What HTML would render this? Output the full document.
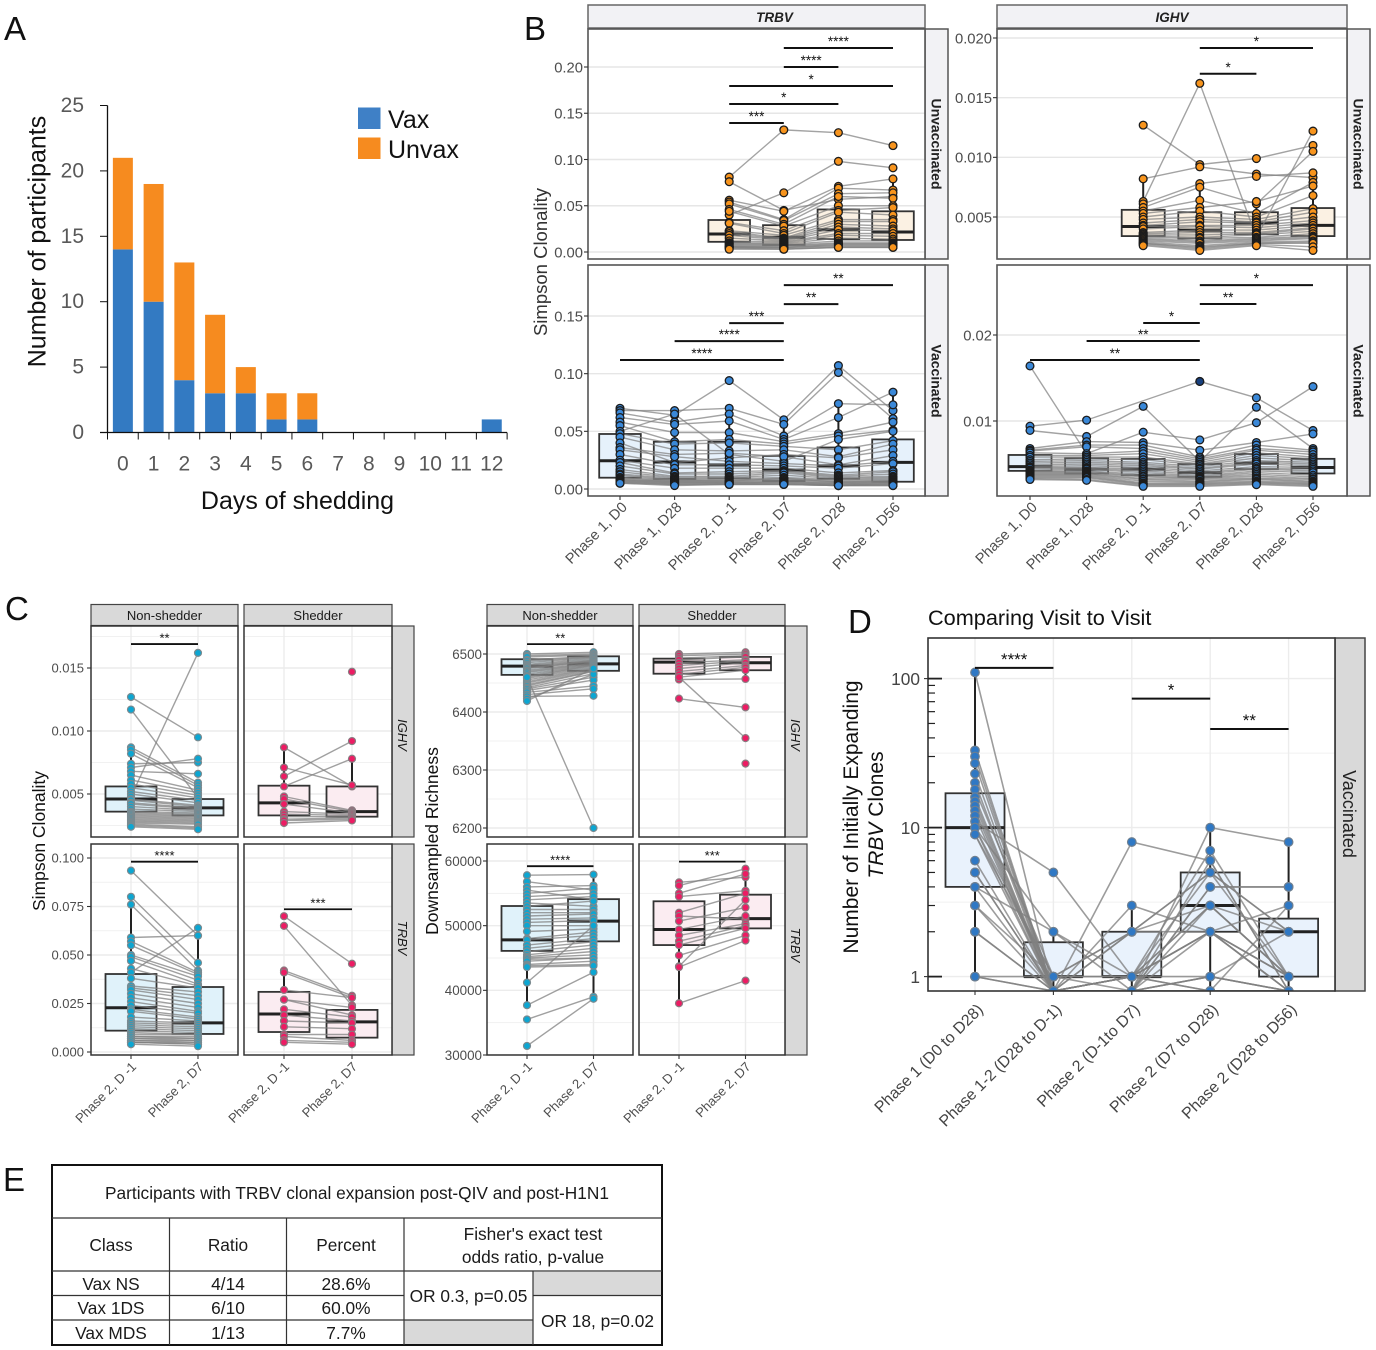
<!DOCTYPE html>
<html lang="en">
<head>
<meta charset="utf-8">
<title>Shedding and clonality figure</title>
<style>
html,body{margin:0;padding:0;background:#fff;}
svg{display:block;font-family:"Liberation Sans",sans-serif;}
</style>
</head>
<body>
<svg id="fig" xmlns="http://www.w3.org/2000/svg" width="1376" height="1350" viewBox="0 0 1376 1350">
  <rect x="0" y="0" width="1376" height="1350" fill="#fff"/>
  <text x="4" y="40" font-size="33" fill="#111">A</text>
  <text x="524" y="40" font-size="33" fill="#111">B</text>
  <text x="5" y="620" font-size="33" fill="#111">C</text>
  <text x="848" y="633" font-size="33" fill="#111">D</text>
  <text x="3" y="1191" font-size="33" fill="#111">E</text>

  <!-- Panel A labels -->
  <text transform="translate(45.5,241.5) rotate(-90)" text-anchor="middle" font-size="25" fill="#111">Number of participants</text>
  <text x="297.5" y="509" text-anchor="middle" font-size="25" fill="#111">Days of shedding</text>
  <rect x="358" y="107.5" width="22.5" height="21.5" fill="#3f80c6"/>
  <rect x="358" y="137.5" width="22.5" height="21.5" fill="#f68b1f"/>
  <text x="388" y="128" font-size="25" fill="#111">Vax</text>
  <text x="388" y="158" font-size="25" fill="#111">Unvax</text>

  <!-- Panel B static -->
  <text transform="translate(547,262) rotate(-90)" text-anchor="middle" font-size="18.5" fill="#333">Simpson Clonality</text>
  <g>
    <rect x="588" y="5" width="337" height="23" fill="#f2f2f5" stroke="#666" stroke-width="1.5"/>
    <text x="774.5" y="22" text-anchor="middle" font-size="13.5" font-weight="bold" font-style="italic" fill="#222">TRBV</text>
  </g>
  <g>
    <rect x="997" y="5" width="350" height="23" fill="#f2f2f5" stroke="#666" stroke-width="1.5"/>
    <text x="1172" y="22" text-anchor="middle" font-size="13.5" font-weight="bold" font-style="italic" fill="#222">IGHV</text>
  </g>
  <g>
    <rect x="925" y="29" width="23" height="230" fill="#f2f2f5" stroke="#555" stroke-width="1.5"/>
    <text transform="translate(931.5,144) rotate(90)" text-anchor="middle" font-size="14" font-weight="bold" fill="#222">Unvaccinated</text>
  </g>
  <g>
    <rect x="925" y="265" width="23" height="231" fill="#f2f2f5" stroke="#555" stroke-width="1.5"/>
    <text transform="translate(931.5,381) rotate(90)" text-anchor="middle" font-size="14" font-weight="bold" fill="#222">Vaccinated</text>
  </g>
  <g>
    <rect x="1347" y="29" width="23" height="230" fill="#f2f2f5" stroke="#555" stroke-width="1.5"/>
    <text transform="translate(1353.5,144) rotate(90)" text-anchor="middle" font-size="14" font-weight="bold" fill="#222">Unvaccinated</text>
  </g>
  <g>
    <rect x="1347" y="265" width="23" height="231" fill="#f2f2f5" stroke="#555" stroke-width="1.5"/>
    <text transform="translate(1353.5,381) rotate(90)" text-anchor="middle" font-size="14" font-weight="bold" fill="#222">Vaccinated</text>
  </g>

  <!-- Panel C static -->
  <text transform="translate(45,841) rotate(-90)" text-anchor="middle" font-size="17.5" fill="#111">Simpson Clonality</text>
  <text transform="translate(438,841) rotate(-90)" text-anchor="middle" font-size="17.5" fill="#111">Downsampled Richness</text>
  <g>
    <rect x="91" y="604.5" width="147" height="21" fill="#d9d9d9" stroke="#444" stroke-width="1.2"/>
    <text x="164.5" y="620" text-anchor="middle" font-size="13" fill="#1a1a1a">Non-shedder</text>
  </g>
  <g>
    <rect x="244" y="604.5" width="148" height="21" fill="#d9d9d9" stroke="#444" stroke-width="1.2"/>
    <text x="318" y="620" text-anchor="middle" font-size="13" fill="#1a1a1a">Shedder</text>
  </g>
  <g>
    <rect x="487" y="604.5" width="146" height="21" fill="#d9d9d9" stroke="#444" stroke-width="1.2"/>
    <text x="560" y="620" text-anchor="middle" font-size="13" fill="#1a1a1a">Non-shedder</text>
  </g>
  <g>
    <rect x="639" y="604.5" width="146" height="21" fill="#d9d9d9" stroke="#444" stroke-width="1.2"/>
    <text x="712" y="620" text-anchor="middle" font-size="13" fill="#1a1a1a">Shedder</text>
  </g>
  <g>
    <rect x="392" y="626" width="22" height="211" fill="#d9d9d9" stroke="#444" stroke-width="1.2"/>
    <text transform="translate(398,735) rotate(90)" text-anchor="middle" font-size="13" font-style="italic" fill="#1a1a1a">IGHV</text>
  </g>
  <g>
    <rect x="392" y="844" width="22" height="211" fill="#d9d9d9" stroke="#444" stroke-width="1.2"/>
    <text transform="translate(398,938) rotate(90)" text-anchor="middle" font-size="13" font-style="italic" fill="#1a1a1a">TRBV</text>
  </g>
  <g>
    <rect x="785" y="626" width="22" height="211" fill="#d9d9d9" stroke="#444" stroke-width="1.2"/>
    <text transform="translate(791,735) rotate(90)" text-anchor="middle" font-size="13" font-style="italic" fill="#1a1a1a">IGHV</text>
  </g>
  <g>
    <rect x="785" y="844" width="22" height="211" fill="#d9d9d9" stroke="#444" stroke-width="1.2"/>
    <text transform="translate(791,945) rotate(90)" text-anchor="middle" font-size="13" font-style="italic" fill="#1a1a1a">TRBV</text>
  </g>

  <!-- Panel D static -->
  <text x="928" y="625" font-size="21.7" fill="#111">Comparing Visit to Visit</text>
  <text transform="translate(858,817) rotate(-90)" text-anchor="middle" font-size="21" fill="#111">Number of Initially Expanding</text>
  <text transform="translate(883,815) rotate(-90)" text-anchor="middle" font-size="21" fill="#111"><tspan font-style="italic">TRBV</tspan> Clones</text>
  <g>
    <rect x="1335" y="638" width="30" height="353" fill="#d9d9d9" stroke="#444" stroke-width="1.5"/>
    <text transform="translate(1343,814) rotate(90)" text-anchor="middle" font-size="18" fill="#222">Vaccinated</text>
  </g>

  <!-- Panel E table -->
  <g font-size="17.3" fill="#1a1a1a" text-anchor="middle">
    <rect x="533" y="1272" width="129" height="23" fill="#d9d9d9"/>
    <rect x="404" y="1320" width="129" height="25" fill="#d9d9d9"/>
    <rect x="52" y="1165" width="610" height="180" fill="none" stroke="#111" stroke-width="2"/>
    <g stroke="#333" stroke-width="1.2">
      <line x1="52" y1="1218" x2="662" y2="1218"/>
      <line x1="52" y1="1271" x2="662" y2="1271"/>
      <line x1="52" y1="1295.5" x2="404" y2="1295.5"/>
      <line x1="52" y1="1320" x2="404" y2="1320"/>
      <line x1="169.5" y1="1218" x2="169.5" y2="1345"/>
      <line x1="286.5" y1="1218" x2="286.5" y2="1345"/>
      <line x1="404" y1="1218" x2="404" y2="1345"/>
      <line x1="533" y1="1271" x2="533" y2="1345"/>
      <line x1="404" y1="1320" x2="533" y2="1320"/>
      <line x1="533" y1="1295.5" x2="662" y2="1295.5"/>
    </g>
    <text x="357" y="1199">Participants with TRBV clonal expansion post-QIV and post-H1N1</text>
    <text x="111" y="1251">Class</text>
    <text x="228" y="1251">Ratio</text>
    <text x="346" y="1251">Percent</text>
    <text x="533" y="1240">Fisher's exact test</text>
    <text x="533" y="1263">odds ratio, p-value</text>
    <text x="111" y="1290">Vax NS</text>
    <text x="228" y="1290">4/14</text>
    <text x="346" y="1290">28.6%</text>
    <text x="111" y="1314">Vax 1DS</text>
    <text x="228" y="1314">6/10</text>
    <text x="346" y="1314">60.0%</text>
    <text x="111" y="1339">Vax MDS</text>
    <text x="228" y="1339">1/13</text>
    <text x="346" y="1339">7.7%</text>
    <text x="468.5" y="1302">OR 0.3, p=0.05</text>
    <text x="597.5" y="1327">OR 18, p=0.02</text>
  </g>
</svg>

<script>
/* ---------- Panel A data ---------- */
const dayLabels = ["0","1","2","3","4","5","6","7","8","9","10","11","12"];
const vaxCounts = [14,10,4,3,3,1,1,0,0,0,0,0,1];
const unvaxCounts = [7,9,9,6,2,2,2,0,0,0,0,0,0];
const participantTicks = [0,5,10,15,20,25];

/* ---------- Shared visit labels ---------- */
const visitLabels = ["Phase 1, D0","Phase 1, D28","Phase 2, D -1","Phase 2, D7","Phase 2, D28","Phase 2, D56"];
const pairLabels = ["Phase 2, D -1","Phase 2, D7"];
const intervalLabels = ["Phase 1 (D0 to D28)","Phase 1-2 (D28 to D-1)","Phase 2 (D-1to D7)","Phase 2 (D7 to D28)","Phase 2 (D28 to D56)"];

/* ---------- Panel B, TRBV unvaccinated ---------- */
const trbvUnvaxTicks = [0,0.05,0.1,0.15,0.2];
const trbvUnvaxTickLabels = ["0.00","0.05","0.10","0.15","0.20"];
const trbvUnvaxDm1 = [.081,.076,.040,.056,.054,.052,.046,.044,.032,.031,.023,.022,.020,.018,.015,.012,.010,.009,.008,.007,.006,.006,.005,.005,.004,.003];
const trbvUnvaxD7 = [.132,.045,.064,.044,.035,.034,.030,.028,.023,.020,.018,.015,.014,.013,.012,.011,.010,.009,.008,.007,.006,.005,.005,.004,.003,.003];
const trbvUnvaxD28 = [.129,.057,.098,.071,.069,.063,.060,.050,.045,.043,.035,.033,.030,.027,.024,.020,.018,.015,.012,.010,.009,.008,.007,.006,.005,.005];
const trbvUnvaxD56 = [.115,.060,.091,.079,.067,.064,.058,.050,.048,.040,.035,.033,.028,.025,.023,.020,.017,.014,.012,.010,.009,.008,.007,.006,.005,.005];
const trbvUnvaxQ1 = [.011,.0076,.014,.013];
const trbvUnvaxMedian = [.0195,.016,.024,.0216];
const trbvUnvaxQ3 = [.0346,.029,.046,.044];
const trbvUnvaxBracketFrom = [3,3,2,2,2];
const trbvUnvaxBracketTo = [5,4,5,4,3];
const trbvUnvaxBracketValue = [.2205,.2,.1795,.16,.1395];
const trbvUnvaxBracketLabel = ["****","****","*","*","***"];

/* ---------- Panel B, TRBV vaccinated ---------- */
const trbvVaxTicks = [0,0.05,0.1,0.15];
const trbvVaxTickLabels = ["0.00","0.05","0.10","0.15"];
const trbvVaxD0 = [.070,.068,.066,.062,.058,.055,.050,.048,.045,.040,.036,.034,.030,.025,.023,.020,.017,.015,.013,.012,.010,.009,.008,.008,.007,.007,.006,.006,.005,.005];
const trbvVaxP1D28 = [.064,.068,.058,.056,.049,.041,.065,.039,.034,.023,.030,.028,.021,.018,.014,.013,.011,.010,.009,.008,.008,.007,.007,.006,.006,.005,.005,.004,.004,.003];
const trbvVaxDm1 = [.094,.070,.065,.059,.049,.043,.030,.040,.033,.027,.031,.024,.021,.018,.015,.013,.011,.010,.009,.008,.007,.007,.006,.006,.005,.005,.005,.004,.004,.004];
const trbvVaxD7 = [.060,.056,.046,.043,.041,.039,.024,.037,.034,.030,.028,.022,.020,.018,.016,.015,.014,.012,.010,.009,.009,.008,.007,.006,.006,.005,.005,.004,.004,.004];
const trbvVaxD28 = [.107,.101,.074,.062,.048,.046,.043,.034,.028,.027,.021,.020,.018,.014,.012,.011,.010,.009,.008,.007,.006,.006,.005,.005,.004,.004,.003,.003,.003,.003];
const trbvVaxD56 = [.068,.061,.073,.084,.058,.051,.050,.042,.039,.034,.029,.024,.022,.016,.015,.013,.011,.010,.009,.008,.007,.007,.006,.006,.005,.005,.004,.004,.003,.003];
const trbvVaxQ1 = [.0098,.0087,.0092,.0069,.0089,.0063];
const trbvVaxMedian = [.0245,.0234,.0208,.0164,.02,.0231];
const trbvVaxQ3 = [.0477,.041,.041,.0286,.036,.043];
const trbvVaxBracketFrom = [3,3,2,1,0];
const trbvVaxBracketTo = [5,4,3,3,3];
const trbvVaxBracketValue = [.1768,.1603,.1438,.1282,.1118];
const trbvVaxBracketLabel = ["**","**","***","****","****"];

/* ---------- Panel B, IGHV unvaccinated ---------- */
const ighvUnvaxTicks = [0.005,0.01,0.015,0.02];
const ighvUnvaxTickLabels = ["0.005","0.010","0.015","0.020"];
const ighvUnvaxDm1 = [.0127,.0082,.0063,.0061,.0058,.0055,.0053,.0050,.0048,.0045,.0043,.0042,.0040,.0037,.0036,.0035,.0034,.0033,.0032,.0031,.0030,.0029,.0028,.0028,.0027,.0026];
const ighvUnvaxD7 = [.0094,.0092,.0162,.0078,.0075,.0064,.0058,.0055,.0050,.0048,.0046,.0043,.0042,.0039,.0037,.0035,.0033,.0032,.0030,.0029,.0028,.0026,.0025,.0024,.0023,.0022];
const ighvUnvaxD28 = [.0099,.0086,.0033,.0084,.0061,.0053,.0063,.0050,.0048,.0046,.0045,.0043,.0041,.0039,.0037,.0036,.0035,.0033,.0032,.0031,.0030,.0029,.0028,.0028,.0027,.0026];
const ighvUnvaxD56 = [.0110,.0083,.0122,.0087,.0105,.0079,.0076,.0068,.0057,.0054,.0050,.0047,.0045,.0043,.0041,.0040,.0038,.0036,.0034,.0033,.0032,.0030,.0029,.0028,.0025,.0022];
const ighvUnvaxQ1 = [.0034,.0032,.00355,.0034];
const ighvUnvaxMedian = [.0042,.0039,.0045,.0043];
const ighvUnvaxQ3 = [.0056,.0054,.0054,.00575];
const ighvUnvaxBracketFrom = [3,3];
const ighvUnvaxBracketTo = [5,4];
const ighvUnvaxBracketValue = [.01916,.017];
const ighvUnvaxBracketLabel = ["*","*"];

/* ---------- Panel B, IGHV vaccinated ---------- */
const ighvVaxTicks = [0.01,0.02];
const ighvVaxTickLabels = ["0.01","0.02"];
const ighvVaxD0 = [.0094,.0089,.0164,.0068,.0066,.0065,.0063,.0060,.0058,.0055,.0053,.0051,.0049,.0047,.0046,.0045,.0043,.0042,.0041,.0040,.0039,.0038,.0037,.0036,.0035,.0034,.0033,.0032];
const ighvVaxP1D28 = [.0101,.0082,.0062,.0076,.0072,.0070,.0062,.0060,.0058,.0056,.0054,.0052,.0050,.0048,.0046,.0045,.0044,.0042,.0041,.0040,.0039,.0038,.0037,.0036,.0035,.0034,.0032,.0031];
const ighvVaxDm1 = [null,.0117,.0087,.0075,.0072,.0068,.0065,.0062,.0058,.0055,.0052,.0050,.0048,.0046,.0044,.0042,.0040,.0038,.0036,.0035,.0033,.0032,.0030,.0028,.0027,.0026,.0025,.0024];
const ighvVaxD7 = [.0146,.0053,.0078,.0066,.0058,.0056,.0054,.0052,.0050,.0049,.0047,.0045,.0044,.0042,.0040,.0038,.0036,.0035,.0034,.0033,.0032,.0030,.0029,.0028,.0027,.0026,.0025,.0024];
const ighvVaxD28 = [.0127,.0116,.0098,.0075,.0072,.0068,.0066,.0063,.0060,.0057,.0054,.0052,.0050,.0047,.0045,.0044,.0042,.0040,.0038,.0036,.0034,.0033,.0032,.0030,.0029,.0028,.0027,.0026];
const ighvVaxD56 = [.0089,.0068,.0140,.0085,.0066,.0064,.0061,.0058,.0056,.0054,.0052,.0050,.0048,.0046,.0044,.0042,.0040,.0037,.0035,.0033,.0032,.0030,.0029,.0028,.0027,.0026,.0025,.0024];
const ighvVaxHighlightD7 = [.0146];
const ighvVaxQ1 = [.0042,.0039,.0037,.0035,.0044,.0039];
const ighvVaxMedian = [.0047,.0044,.0044,.004,.0051,.0046];
const ighvVaxQ3 = [.00605,.00566,.00558,.005,.00616,.0056];
const ighvVaxBracketFrom = [3,3,2,1,0];
const ighvVaxBracketTo = [5,4,3,3,3];
const ighvVaxBracketValue = [.0258,.0236,.0214,.0193,.0171];
const ighvVaxBracketLabel = ["*","**","*","**","**"];

/* ---------- Panel C, clonality ---------- */
const clonIghvTicks = [0.005,0.01,0.015];
const clonIghvTickLabels = ["0.005","0.010","0.015"];
const clonTrbvTicks = [0,0.025,0.05,0.075,0.1];
const clonTrbvTickLabels = ["0.000","0.025","0.050","0.075","0.100"];

const nsIghvDm1 = [.0127,.0117,.0087,.0085,.0082,.0074,.0071,.0068,.0065,.0061,.0058,.0055,.0052,.0050,.0048,.0046,.0045,.0043,.0042,.0040,.0038,.0036,.0035,.0034,.0033,.0032,.0031,.0030,.0029,.0028,.0027,.0026,.0025,.0024];
const nsIghvD7 = [.0095,.0047,.0059,.0057,.0055,.0075,.0078,.0066,.0053,.0051,.0049,.0047,.0045,.0043,.0162,.0041,.0040,.0039,.0038,.0037,.0036,.0035,.0034,.0033,.0032,.0031,.0030,.0029,.0028,.0027,.0026,.0024,.0023,.0022];
const nsIghvQ1 = [.0036,.0033];
const nsIghvMedian = [.0046,.0039];
const nsIghvQ3 = [.0056,.0046];
const nsIghvBracketFrom = [0];
const nsIghvBracketTo = [1];
const nsIghvBracketValue = [.0169];
const nsIghvBracketLabel = ["**"];

const shIghvDm1 = [.0087,.0071,.0064,.0056,.0048,.0046,.0042,.0036,.0034,.0032,.0030,.0029,.0027,null];
const shIghvD7 = [.0056,.0057,.0092,.0078,.0037,.0036,.0035,.0034,.0033,.0032,.0031,.0030,.0029,.0147];
const shIghvQ1 = [.0033,.0032];
const shIghvMedian = [.0043,.0036];
const shIghvQ3 = [.00566,.0056];

const nsTrbvDm1 = [.0935,.080,.076,.059,.057,.055,.050,.049,.047,.043,.041,.038,.034,.033,.032,.030,.028,.026,.024,.022,.021,.018,.016,.015,.014,.013,.012,.011,.010,.009,.008,.008,.007,.007,.006,.006,.005,.005,.005,.004];
const nsTrbvD7 = [.060,.046,.042,.060,.041,.040,.039,.037,.035,.034,.064,.033,.031,.029,.027,.025,.023,.021,.020,.018,.017,.016,.015,.014,.013,.012,.011,.010,.009,.009,.008,.007,.007,.006,.006,.005,.005,.004,.004,.003];
const nsTrbvQ1 = [.011,.0093];
const nsTrbvMedian = [.0228,.015];
const nsTrbvQ3 = [.0402,.0335];
const nsTrbvBracketFrom = [0];
const nsTrbvBracketTo = [1];
const nsTrbvBracketValue = [.0981];
const nsTrbvBracketLabel = ["****"];

const shTrbvDm1 = [.070,.065,.042,.041,.032,.027,.027,.022,.019,.016,.013,.009,.008,.006,.005];
const shTrbvD7 = [.0455,.024,.029,.028,.028,.023,.019,.018,.016,.015,.012,.009,.006,.005,.004];
const shTrbvQ1 = [.0103,.0074];
const shTrbvMedian = [.0196,.0155];
const shTrbvQ3 = [.031,.0217];
const shTrbvBracketFrom = [0];
const shTrbvBracketTo = [1];
const shTrbvBracketValue = [.0736];
const shTrbvBracketLabel = ["***"];

/* ---------- Panel C, richness ---------- */
const richIghvTicks = [6200,6300,6400,6500];
const richIghvTickLabels = ["6200","6300","6400","6500"];
const richTrbvTicks = [30000,40000,50000,60000];
const richTrbvTickLabels = ["30000","40000","50000","60000"];

const rnsIghvDm1 = [6500,6497,6495,6490,6488,6485,6482,6480,6478,6476,6475,6472,6470,6468,6465,6462,6460,6458,6455,6452,6450,6447,6445,6442,6440,6437,6434,6430,6427,6423,6419,6460];
const rnsIghvD7 = [6503,6500,6498,6496,6495,6494,6492,6490,6489,6488,6487,6485,6484,6483,6482,6481,6480,6478,6476,6475,6473,6471,6470,6466,6460,6455,6445,6440,6428,6465,6475,6200];
const rnsIghvQ1 = [6464,6471];
const rnsIghvMedian = [6479,6483];
const rnsIghvQ3 = [6491,6496];
const rnsIghvBracketFrom = [0];
const rnsIghvBracketTo = [1];
const rnsIghvBracketValue = [6517];
const rnsIghvBracketLabel = ["**"];

const rshIghvDm1 = [6500,6497,6493,6490,6485,6480,6475,6470,6465,6460,6456,6423,6460,null];
const rshIghvD7 = [6503,6500,6497,6495,6490,6488,6485,6480,6477,6472,6457,6408,6355,6311];
const rshIghvQ1 = [6466,6472];
const rshIghvMedian = [6486,6485];
const rshIghvQ3 = [6492,6495];

const rnsTrbvDm1 = [57800,56800,56000,55500,55000,54500,54000,53500,53000,52500,52000,51500,51000,50500,50000,49100,48000,47800,47000,46500,46000,45500,45200,45000,44800,44500,44000,43800,43600,41200,37700,35500,31400];
const rnsTrbvD7 = [57900,55500,56200,54000,55800,55000,54500,53000,53800,52500,52000,51800,51200,50800,50000,49500,49000,48500,48000,47500,47000,46500,46000,45500,45000,45000,44500,44000,43800,50000,42800,39000,38700];
const rnsTrbvQ1 = [46100,47570];
const rnsTrbvMedian = [47800,50700];
const rnsTrbvQ3 = [53040,54100];
const rnsTrbvBracketFrom = [0];
const rnsTrbvBracketTo = [1];
const rnsTrbvBracketValue = [59200];
const rnsTrbvBracketLabel = ["****"];

const rshTrbvDm1 = [56700,56200,55000,54500,52000,51500,50700,49400,48500,47600,47000,45400,43700,43600,38000];
const rshTrbvD7 = [57500,58800,58000,55400,55000,51000,52800,51500,50300,50000,49600,48500,54000,47700,41500];
const rshTrbvQ1 = [47000,49580];
const rshTrbvMedian = [49400,51080];
const rshTrbvQ3 = [53770,54790];
const rshTrbvBracketFrom = [0];
const rshTrbvBracketTo = [1];
const rshTrbvBracketValue = [59900];
const rshTrbvBracketLabel = ["***"];

/* ---------- Panel D ---------- */
const expandTicks = [1,10,100];
const expandTickLabels = ["1","10","100"];
const expandD0D28 = [110,33,30,27,23,20,18,16,15,14,13,12,11,10,10,10,9,9,6,5,5,4,4,3,3,2,2,1,1,1];
const expandD28Dm1 = [.8,.8,.8,.8,.8,.8,1,.8,.8,.8,.8,.8,5,.8,2,1,.8,1,.8,.8,.8,.8,2,.8,1,.8,.8,.8,.8,1];
const expandDm1D7 = [.8,1,2,3,1,.8,2,1,.8,1,.8,.8,1,8,1,2,.8,1,2,.8,1,1,.8,.8,1,.8,1,.8,.8,.8];
const expandD7D28 = [10,5,5,2,7,6,3,3,4,2,.8,3,.8,6,.8,5,2,1,2,1,3,2,.8,1,2,4,2,.8,.8,1];
const expandD28D56 = [8,1,2,1,1,.8,2,1,4,.8,.8,1,.8,.8,.8,2,1,.8,3,.8,1,.8,.8,2,1,4,.8,.8,3,.8];
const expandQ1 = [4,1,1,2,1];
const expandMedian = [10,1,1,3,2];
const expandQ3 = [17,1.7,2,5,2.45];
const expandBracketFrom = [0,2,3];
const expandBracketTo = [1,3,4];
const expandBracketValue = [118,73.4,45.9];
const expandBracketLabel = ["****","*","**"];

/* ---------- Helpers ---------- */
const root = document.getElementById('fig');
const SVGNS = 'http://www.w3.org/2000/svg';
function mk(tag, attrs, parent){
  const el = document.createElementNS(SVGNS, tag);
  for (const k in attrs) el.setAttribute(k, attrs[k]);
  parent.appendChild(el);
  return el;
}
function linear(d0, p0, d1, p1){
  return v => p0 + (v - d0) * (p1 - p0) / (d1 - d0);
}
function logScale(d0, p0, d1, p1){
  const f = linear(Math.log10(d0), p0, Math.log10(d1), p1);
  return v => f(Math.log10(v));
}
function band(first, step){
  return i => first + i * step;
}
function quiet(v){ return v === null || v === undefined; }
let clipCounter = 0;

/* ---------- Panel A ---------- */
function drawBars(){
  const g = mk('g', {}, root);
  
  
  const y = linear(0, 432.5, 25, 105.5);
  const xEdge = band(107.5, 30.74);
  const xMid = i => xEdge(i) + 15.37;
  dayLabels.forEach((lab, i) => {
    const v = vaxCounts[i], u = unvaxCounts[i];
    if (v > 0) {
      const rv = mk('rect', {x: xMid(i) - 10, y: y(v), width: 20, height: y(0) - y(v), fill: '#337ac2'}, g);
      
      
    }
    if (u > 0) {
      const ru = mk('rect', {x: xMid(i) - 10, y: y(v + u), width: 20, height: y(v) - y(v + u), fill: '#f68b1f'}, g);
      
      
    }
    const t = mk('text', {x: xMid(i), y: 470.5, 'text-anchor': 'middle', 'font-size': 21, fill: '#595959'}, g);
    t.textContent = lab;
    
    
  });
  for (let i = 0; i <= dayLabels.length; i++) {
    const tk = mk('line', {x1: xEdge(i), x2: xEdge(i), y1: y(0), y2: 439.5, stroke: '#111', 'stroke-width': 1}, g);
    
    
  }
  participantTicks.forEach(v => {
    const tk = mk('line', {x1: 100, x2: 107.5, y1: y(v), y2: y(v), stroke: '#111', 'stroke-width': 1}, g);
    
    
    const t = mk('text', {x: 84, y: y(v) + 6.5, 'text-anchor': 'end', 'font-size': 21, fill: '#595959'}, g);
    t.textContent = String(v);
    
    
  });
  const ax = mk('line', {x1: 107.5, x2: 107.5, y1: y(25), y2: y(0), stroke: '#111', 'stroke-width': 1.3}, g);
  
  
  const bx = mk('line', {x1: 100, x2: 507, y1: y(0), y2: y(0), stroke: '#111', 'stroke-width': 1.3}, g);
  
  
}

/* ---------- Facet panels ---------- */
function drawFacet(c){
  const g = mk('g', {}, root);
  
  

  const bg = mk('rect', {x: c.left, y: c.top, width: c.right - c.left, height: c.bottom - c.top, fill: '#fff'}, g);
  
  

  const clipId = 'clip' + (clipCounter++);
  const cp = mk('clipPath', {id: clipId}, g);
  mk('rect', {x: c.left, y: c.top, width: c.right - c.left, height: c.bottom - c.top}, cp);
  const inner = mk('g', {'clip-path': 'url(#' + clipId + ')'}, g);
  
  

  /* grid */
  if (c.minorGrid) {
    const px = c.ticks.map(c.y);
    const step = px.length > 1 ? px[1] - px[0] : 0;
    const mids = [];
    for (let i = 0; i < px.length - 1; i++) mids.push((px[i] + px[i + 1]) / 2);
    if (step) { mids.push(px[0] - step / 2); mids.push(px[px.length - 1] + step / 2); }
    mids.forEach(p => {
      const m = mk('line', {x1: c.left, x2: c.right, y1: p, y2: p, stroke: '#f1f1f1', 'stroke-width': 1}, inner);
      
      
    });
  }
  c.ticks.forEach(v => {
    const l = mk('line', {x1: c.left, x2: c.right, y1: c.y(v), y2: c.y(v), stroke: c.gridColor, 'stroke-width': 1.4}, inner);
    
    
  });
  if (c.gridX) {
    c.labels.forEach((_, i) => {
      const l = mk('line', {x1: c.x(i), x2: c.x(i), y1: c.top, y2: c.bottom, stroke: c.gridColor, 'stroke-width': 1.4}, inner);
      
      
    });
  }

  const first = c.startCat || 0;

  /* boxes */
  c.columns.forEach((col, j) => {
    const cx = c.x(j + first);
    const topY = c.y(c.q3[j]);
    const botY = c.y(c.q1[j]);
    const medY = c.y(c.median[j]);
    const iqr = botY - topY;
    const px = col.filter(v => !quiet(v)).map(c.y);
    const inHi = px.filter(p => p >= topY - 1.5 * iqr);
    const inLo = px.filter(p => p <= botY + 1.5 * iqr);
    const hiY = inHi.length ? Math.min(topY, Math.min.apply(null, inHi)) : topY;
    const loY = inLo.length ? Math.max(botY, Math.max.apply(null, inLo)) : botY;

    const w1 = mk('line', {x1: cx, x2: cx, y1: hiY, y2: topY, stroke: '#222', 'stroke-width': 2}, inner);
    
    
    const w2 = mk('line', {x1: cx, x2: cx, y1: botY, y2: loY, stroke: '#222', 'stroke-width': 2}, inner);
    
    
    const b = mk('rect', {x: cx - c.boxW / 2, y: topY, width: c.boxW, height: botY - topY, fill: c.boxFill, stroke: '#333', 'stroke-width': 1.8}, inner);
    
    
    const m = mk('line', {x1: cx - c.boxW / 2, x2: cx + c.boxW / 2, y1: medY, y2: medY, stroke: '#222', 'stroke-width': 3}, inner);
    
    
  });

  /* paired participant lines */
  const n = Math.max.apply(null, c.columns.map(col => col.length));
  for (let i = 0; i < n; i++) {
    const pts = [];
    c.columns.forEach((col, j) => {
      if (!quiet(col[i])) pts.push(c.x(j + first).toFixed(1) + ',' + c.y(col[i]).toFixed(1));
    });
    if (pts.length > 1) {
      const pl = mk('polyline', {points: pts.join(' '), fill: 'none', stroke: c.lineColor, 'stroke-opacity': c.lineOpacity, 'stroke-width': c.lineWidth}, inner);
      
      
    }
  }

  /* points */
  c.columns.forEach((col, j) => {
    col.forEach(v => {
      if (quiet(v)) return;
      const p = mk('circle', {cx: c.x(j + first), cy: c.y(v), r: c.r, fill: c.pointFill, stroke: c.pointStroke, 'stroke-width': c.pointStrokeW}, inner);
      
      
    });
  });

  /* brackets */
  (c.bFrom || []).forEach((f, k) => {
    const x1 = c.x(f), x2 = c.x(c.bTo[k]), yy = c.y(c.bValue[k]);
    const ln = mk('line', {x1: x1, x2: x2, y1: yy, y2: yy, stroke: '#111', 'stroke-width': c.bracketW || 1.5}, g);
    
    
    const st = mk('text', {x: (x1 + x2) / 2, y: yy - (c.starDy || 2), 'text-anchor': 'middle', 'font-size': c.starSize || 13, fill: '#111'}, g);
    st.textContent = c.bLabel[k];
    
    
  });

  /* border */
  const bd = mk('rect', {x: c.left, y: c.top, width: c.right - c.left, height: c.bottom - c.top, fill: 'none', stroke: c.borderColor, 'stroke-width': c.borderW}, g);
  
  

  /* y axis */
  if (c.yAxis) {
    c.ticks.forEach((v, k) => {
      const yy = c.y(v);
      const tk = mk('line', {x1: c.left - 4, x2: c.left, y1: yy, y2: yy, stroke: '#333', 'stroke-width': 1.1}, g);
      
      
      const t = mk('text', {x: c.left - c.labelGap, y: yy + c.tickSize * 0.36, 'text-anchor': 'end', 'font-size': c.tickSize, fill: c.tickColor}, g);
      t.textContent = c.tickLabels[k];
      
      
    });
  }

  /* x axis */
  if (c.xAxis) {
    c.labels.forEach((lab, i) => {
      const xx = c.x(i);
      const tk = mk('line', {x1: xx, x2: xx, y1: c.bottom, y2: c.bottom + 4, stroke: '#333', 'stroke-width': 1.1}, g);
      
      
      const t = mk('text', {transform: 'translate(' + (xx + c.lx) + ',' + (c.bottom + c.ly) + ') rotate(-45)', 'text-anchor': 'end', 'font-size': c.xSize, fill: c.tickColor}, g);
      t.textContent = lab;
      
      
    });
  }
  return g;
}

/* shared style presets (no data here) */
function bStyle(extra){
  return Object.assign({
    gridColor: '#e6e6e6', boxW: 41.6, r: 3.9, pointStrokeW: 1.3, pointStroke: '#1c1c1c',
    lineColor: '#808080', lineOpacity: .72, lineWidth: 1.4, borderColor: '#555', borderW: 1.6,
    yAxis: true, tickSize: 14.8, labelGap: 5, tickColor: '#4d4d4d', lx: 8, ly: 12, xSize: 14.6,
    starSize: 13.5, starDy: 2, bracketW: 2, labels: visitLabels
  }, extra);
}
function cStyle(extra){
  return Object.assign({
    gridColor: '#ececec', gridX: true, minorGrid: true, boxW: 51, r: 3.5, pointStrokeW: 1.2, pointStroke: '#7a8a90',
    lineColor: '#808080', lineOpacity: .75, lineWidth: 1.4, borderColor: '#333', borderW: 1.5,
    tickSize: 13, labelGap: 7, tickColor: '#4d4d4d', lx: 6, ly: 12.5, xSize: 13,
    starSize: 13, starDy: 1.5, bracketW: 1.8, labels: pairLabels
  }, extra);
}

const yTrbvU = linear(0, 252, .2, 67);
const yTrbvV = linear(0, 489, .15, 316);
const yIghvU = linear(.005, 217, .02, 38);
const yIghvV = linear(.01, 421, .02, 335);
const xTrbv = band(620, 54.6);
const xIghv = band(1030, 56.6);

const yClonI = linear(.005, 794, .015, 668);
const yClonT = linear(0, 1052, .1, 858);
const yRichI = linear(6200, 828, 6500, 654);
const yRichT = linear(30000, 1055, 60000, 861);
const xC1 = band(131, 67);
const xC2 = band(284, 68);
const xC3 = band(527, 66.5);
const xC4 = band(679, 66.5);
const yExpand = logScale(1, 976.6, 100, 678.6);
const xExpand = band(975, 78.4);

drawBars();

const pTrbvU = drawFacet(bStyle({left: 588, right: 925, top: 29, bottom: 259, x: xTrbv, y: yTrbvU, startCat: 2,
  ticks: trbvUnvaxTicks, tickLabels: trbvUnvaxTickLabels,
  columns: [trbvUnvaxDm1, trbvUnvaxD7, trbvUnvaxD28, trbvUnvaxD56],
  q1: trbvUnvaxQ1, median: trbvUnvaxMedian, q3: trbvUnvaxQ3,
  bFrom: trbvUnvaxBracketFrom, bTo: trbvUnvaxBracketTo, bValue: trbvUnvaxBracketValue, bLabel: trbvUnvaxBracketLabel,
  boxFill: '#fbf1e3', pointFill: '#f7941d', xAxis: false}));


const pTrbvV = drawFacet(bStyle({left: 588, right: 925, top: 265, bottom: 496, x: xTrbv, y: yTrbvV,
  ticks: trbvVaxTicks, tickLabels: trbvVaxTickLabels,
  columns: [trbvVaxD0, trbvVaxP1D28, trbvVaxDm1, trbvVaxD7, trbvVaxD28, trbvVaxD56],
  q1: trbvVaxQ1, median: trbvVaxMedian, q3: trbvVaxQ3,
  bFrom: trbvVaxBracketFrom, bTo: trbvVaxBracketTo, bValue: trbvVaxBracketValue, bLabel: trbvVaxBracketLabel,
  boxFill: '#e6f1fb', pointFill: '#3a88d8', xAxis: true}));


const pIghvU = drawFacet(bStyle({left: 997, right: 1347, top: 29, bottom: 259, x: xIghv, y: yIghvU, startCat: 2, boxW: 43,
  ticks: ighvUnvaxTicks, tickLabels: ighvUnvaxTickLabels,
  columns: [ighvUnvaxDm1, ighvUnvaxD7, ighvUnvaxD28, ighvUnvaxD56],
  q1: ighvUnvaxQ1, median: ighvUnvaxMedian, q3: ighvUnvaxQ3,
  bFrom: ighvUnvaxBracketFrom, bTo: ighvUnvaxBracketTo, bValue: ighvUnvaxBracketValue, bLabel: ighvUnvaxBracketLabel,
  boxFill: '#fbf1e3', pointFill: '#f7941d', xAxis: false}));


const pIghvV = drawFacet(bStyle({left: 997, right: 1347, top: 265, bottom: 496, x: xIghv, y: yIghvV, boxW: 43,
  ticks: ighvVaxTicks, tickLabels: ighvVaxTickLabels,
  columns: [ighvVaxD0, ighvVaxP1D28, ighvVaxDm1, ighvVaxD7, ighvVaxD28, ighvVaxD56],
  q1: ighvVaxQ1, median: ighvVaxMedian, q3: ighvVaxQ3,
  bFrom: ighvVaxBracketFrom, bTo: ighvVaxBracketTo, bValue: ighvVaxBracketValue, bLabel: ighvVaxBracketLabel,
  boxFill: '#e6f1fb', pointFill: '#3a88d8', xAxis: true}));


/* The D7 peak in the IGHV vaccinated panel appears in a darker navy */
ighvVaxHighlightD7.forEach(v => {
  const hp = mk('circle', {cx: xIghv(3), cy: yIghvV(v), r: 3.9, fill: '#17407f', stroke: '#1c1c1c', 'stroke-width': 1.3}, pIghvV);
  
  
});

const pC1 = drawFacet(cStyle({left: 91, right: 238, top: 626, bottom: 837, x: xC1, y: yClonI, yAxis: true, xAxis: false,
  ticks: clonIghvTicks, tickLabels: clonIghvTickLabels, columns: [nsIghvDm1, nsIghvD7],
  q1: nsIghvQ1, median: nsIghvMedian, q3: nsIghvQ3,
  bFrom: nsIghvBracketFrom, bTo: nsIghvBracketTo, bValue: nsIghvBracketValue, bLabel: nsIghvBracketLabel,
  boxFill: '#e0f2fa', pointFill: '#0ca6d2'}));


const pC2 = drawFacet(cStyle({left: 244, right: 392, top: 626, bottom: 837, x: xC2, y: yClonI, xAxis: false,
  ticks: clonIghvTicks, tickLabels: clonIghvTickLabels, columns: [shIghvDm1, shIghvD7],
  q1: shIghvQ1, median: shIghvMedian, q3: shIghvQ3,
  boxFill: '#fbecf1', pointFill: '#ec1c63', pointStroke: '#8a7a80'}));


const pC3 = drawFacet(cStyle({left: 91, right: 238, top: 844, bottom: 1055, x: xC1, y: yClonT, yAxis: true, xAxis: true,
  ticks: clonTrbvTicks, tickLabels: clonTrbvTickLabels, columns: [nsTrbvDm1, nsTrbvD7],
  q1: nsTrbvQ1, median: nsTrbvMedian, q3: nsTrbvQ3,
  bFrom: nsTrbvBracketFrom, bTo: nsTrbvBracketTo, bValue: nsTrbvBracketValue, bLabel: nsTrbvBracketLabel,
  boxFill: '#e0f2fa', pointFill: '#0ca6d2'}));


const pC4 = drawFacet(cStyle({left: 244, right: 392, top: 844, bottom: 1055, x: xC2, y: yClonT, xAxis: true,
  ticks: clonTrbvTicks, tickLabels: clonTrbvTickLabels, columns: [shTrbvDm1, shTrbvD7],
  q1: shTrbvQ1, median: shTrbvMedian, q3: shTrbvQ3,
  bFrom: shTrbvBracketFrom, bTo: shTrbvBracketTo, bValue: shTrbvBracketValue, bLabel: shTrbvBracketLabel,
  boxFill: '#fbecf1', pointFill: '#ec1c63', pointStroke: '#8a7a80'}));


const pC5 = drawFacet(cStyle({left: 487, right: 633, top: 626, bottom: 837, x: xC3, y: yRichI, yAxis: true, xAxis: false, tickSize: 13.4, labelGap: 5,
  ticks: richIghvTicks, tickLabels: richIghvTickLabels, columns: [rnsIghvDm1, rnsIghvD7],
  q1: rnsIghvQ1, median: rnsIghvMedian, q3: rnsIghvQ3,
  bFrom: rnsIghvBracketFrom, bTo: rnsIghvBracketTo, bValue: rnsIghvBracketValue, bLabel: rnsIghvBracketLabel,
  boxFill: '#e0f2fa', pointFill: '#0ca6d2'}));


const pC6 = drawFacet(cStyle({left: 639, right: 785, top: 626, bottom: 837, x: xC4, y: yRichI, xAxis: false,
  ticks: richIghvTicks, tickLabels: richIghvTickLabels, columns: [rshIghvDm1, rshIghvD7],
  q1: rshIghvQ1, median: rshIghvMedian, q3: rshIghvQ3,
  boxFill: '#fbecf1', pointFill: '#ec1c63', pointStroke: '#8a7a80'}));


const pC7 = drawFacet(cStyle({left: 487, right: 633, top: 844, bottom: 1055, x: xC3, y: yRichT, yAxis: true, xAxis: true, tickSize: 13.4, labelGap: 5,
  ticks: richTrbvTicks, tickLabels: richTrbvTickLabels, columns: [rnsTrbvDm1, rnsTrbvD7],
  q1: rnsTrbvQ1, median: rnsTrbvMedian, q3: rnsTrbvQ3,
  bFrom: rnsTrbvBracketFrom, bTo: rnsTrbvBracketTo, bValue: rnsTrbvBracketValue, bLabel: rnsTrbvBracketLabel,
  boxFill: '#e0f2fa', pointFill: '#0ca6d2'}));


const pC8 = drawFacet(cStyle({left: 639, right: 785, top: 844, bottom: 1055, x: xC4, y: yRichT, xAxis: true,
  ticks: richTrbvTicks, tickLabels: richTrbvTickLabels, columns: [rshTrbvDm1, rshTrbvD7],
  q1: rshTrbvQ1, median: rshTrbvMedian, q3: rshTrbvQ3,
  bFrom: rshTrbvBracketFrom, bTo: rshTrbvBracketTo, bValue: rshTrbvBracketValue, bLabel: rshTrbvBracketLabel,
  boxFill: '#fbecf1', pointFill: '#ec1c63', pointStroke: '#8a7a80'}));


const pD = drawFacet({left: 928, right: 1335, top: 638, bottom: 991, x: xExpand, y: yExpand,
  gridColor: '#ececec', gridX: true, minorGrid: true, boxW: 59, r: 4.3, pointStrokeW: 1.2, pointStroke: '#6f7f8f',
  lineColor: '#808080', lineOpacity: .78, lineWidth: 1.6, borderColor: '#333', borderW: 1.6,
  yAxis: true, tickSize: 17.3, labelGap: 8, tickColor: '#444', lx: 9, ly: 19.5, xSize: 16, xAxis: true,
  labels: intervalLabels, ticks: expandTicks, tickLabels: expandTickLabels,
  columns: [expandD0D28, expandD28Dm1, expandDm1D7, expandD7D28, expandD28D56],
  q1: expandQ1, median: expandMedian, q3: expandQ3,
  bFrom: expandBracketFrom, bTo: expandBracketTo, bValue: expandBracketValue, bLabel: expandBracketLabel,
  starSize: 17, starDy: 3, bracketW: 2,
  boxFill: '#e9f2fc', pointFill: '#2f78c4'});


/* Panel D inward log ticks */
const logTickDecades = [1,10];
const logTickMultipliers = [2,3,4,5,6,7,8,9];
logTickDecades.forEach(dec => {
  logTickMultipliers.forEach(mult => {
    const yy = yExpand(dec * mult);
    const lt = mk('line', {x1: 928, x2: 935, y1: yy, y2: yy, stroke: '#222', 'stroke-width': 1.2}, pD);
    
    
  });
});
expandTicks.forEach(v => {
  const lt = mk('line', {x1: 928, x2: 942, y1: yExpand(v), y2: yExpand(v), stroke: '#222', 'stroke-width': 1.8}, pD);
  
  
});
</script>
</body>
</html>
